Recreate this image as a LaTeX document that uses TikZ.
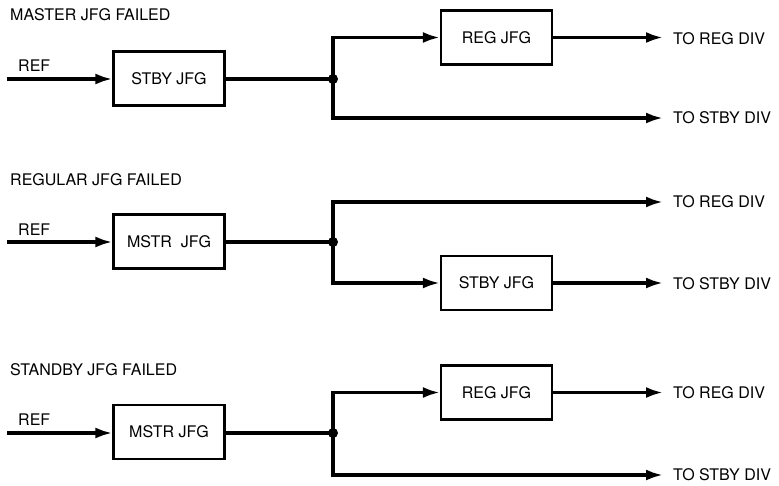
\documentclass[tikz,border=0pt]{standalone}
\usepackage{fontspec}
\setmainfont{TeX Gyre Heros}
\usetikzlibrary{arrows.meta}
\begin{document}
\begin{tikzpicture}[x=1pt,y=-1pt,
  blk/.style={draw,line width=2.2pt,minimum width=111pt,minimum height=54pt,inner sep=0pt,font=\fontsize{16}{18}\selectfont},
  wire/.style={line width=3.2pt},
  arr/.style={wire,-{Latex[length=17pt,width=11pt]}},
  lbl/.style={font=\fontsize{16}{18}\selectfont,inner sep=0pt},
  outl/.style={lbl,inner xsep=10pt,anchor=west},
  dot/.style={circle,fill,inner sep=0pt,minimum size=10pt}]
\useasboundingbox (0,0) rectangle (779,485);

% ---------- section 1 ----------
\node[lbl,anchor=base west] (t1) at (10,20) {MASTER JFG FAILED};
\node[lbl,anchor=base west] (r1) at (18,71) {REF};
\coordinate (in1) at (7,79);
\node[blk] (b1) at (169,78.5) {STBY JFG};
\node[dot] (j1) at (333,79) {};
\node[blk] (c1) at (496.5,37.5) {REG JFG};
\node[outl] (o1a) at (663,39) {TO REG DIV};
\node[outl] (o1b) at (663,118) {TO STBY DIV};
\draw[arr] (in1) -- (in1 -| b1.west);
\draw[wire] (b1.east |- j1) -- (j1.center);
\draw[arr] (j1.center) |- (c1.west);
\draw[arr] (c1.east) -- (c1.east -| o1a.west);
\draw[arr] (j1.center) |- (o1b.west);

% ---------- section 2 ----------
\node[lbl,anchor=base west] (t2) at (10,185) {REGULAR JFG FAILED};
\node[lbl,anchor=base west] (r2) at (18,235) {REF};
\coordinate (in2) at (7,242);
\node[blk] (b2) at (169,241.5) {MSTR\ \ JFG};
\node[dot] (j2) at (333,242) {};
\node[blk] (c2) at (496.5,283) {STBY JFG};
\node[outl] (o2a) at (663,202) {TO REG DIV};
\node[outl] (o2b) at (663,284) {TO STBY DIV};
\draw[arr] (in2) -- (in2 -| b2.west);
\draw[wire] (b2.east |- j2) -- (j2.center);
\draw[arr] (j2.center) |- (o2a.west);
\draw[arr] (j2.center) |- (c2.west);
\draw[arr] (c2.east) -- (c2.east -| o2b.west);

% ---------- section 3 ----------
\node[lbl,anchor=base west] (t3) at (10,375) {STANDBY JFG FAILED};
\node[lbl,anchor=base west] (r3) at (18,425) {REF};
\coordinate (in3) at (7,433);
\node[blk] (b3) at (169,432) {MSTR JFG};
\node[dot] (j3) at (333,433) {};
\node[blk] (c3) at (496.5,392.5) {REG JFG};
\node[outl] (o3a) at (663,393) {TO REG DIV};
\node[outl] (o3b) at (663,475) {TO STBY DIV};
\draw[arr] (in3) -- (in3 -| b3.west);
\draw[wire] (b3.east |- j3) -- (j3.center);
\draw[arr] (j3.center) |- (c3.west);
\draw[arr] (c3.east) -- (c3.east -| o3a.west);
\draw[arr] (j3.center) |- (o3b.west);
\end{tikzpicture}
\end{document}
